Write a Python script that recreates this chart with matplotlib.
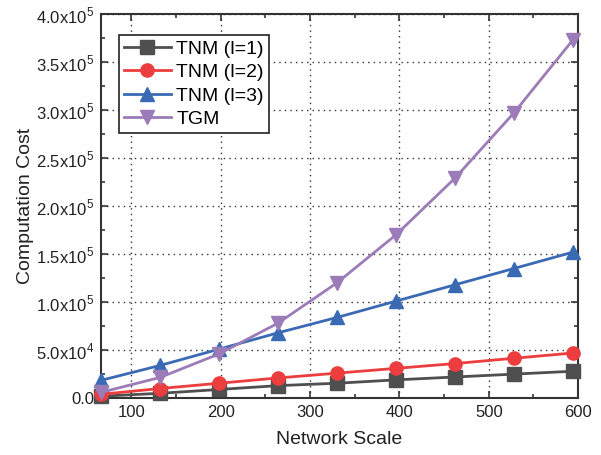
import matplotlib.pyplot as plt
from matplotlib.ticker import MultipleLocator, FuncFormatter

plt.rcParams['font.family'] = ['Liberation Sans', 'DejaVu Sans']
plt.rcParams['mathtext.fontset'] = 'custom'
plt.rcParams['mathtext.rm'] = 'Liberation Sans'

# data
network_scale = [66, 132, 198, 264, 330, 396, 462, 528, 594]
tnm_l1 = [2000, 5000, 9000, 13000, 15500, 19000, 22000, 25000, 28000]
tnm_l2 = [4000, 10000, 15500, 21000, 26000, 31000, 36000, 41500, 47000]
tnm_l3 = [18500, 34000, 51000, 68000, 84000, 101000, 118000, 135000, 152000]
tgm = [6000, 21500, 46000, 78000, 120000, 170000, 229000, 297000, 373000]

labels = ['TNM (l=1)', 'TNM (l=2)', 'TNM (l=3)', 'TGM']
colors = ['#4f4f4f', '#ec3d3f', '#3a6ab4', '#9b7bb8']
markers = ['s', 'o', '^', 'v']

fig = plt.figure(figsize=(6.01, 4.55), dpi=100)
ax = fig.add_axes([0.168, 0.125, 0.794, 0.844])

for ys, lab, c, m in zip([tnm_l1, tnm_l2, tnm_l3, tgm], labels, colors, markers):
    ax.plot(network_scale, ys, color=c, marker=m, markersize=9.5, lw=2,
            label=lab, clip_on=False, zorder=3)

ax.set_xlim(66, 600)
ax.set_ylim(0, 4.0e5)
ax.xaxis.set_major_locator(MultipleLocator(100))
ax.xaxis.set_minor_locator(MultipleLocator(50))
ax.yaxis.set_major_locator(MultipleLocator(5e4))
ax.yaxis.set_minor_locator(MultipleLocator(2.5e4))


def sci(v, pos):
    if v == 0:
        return '0.0'
    e = 5 if v >= 1e5 else 4
    return '%.1fx10$^{%d}$' % (v / 10 ** e, e)


ax.yaxis.set_major_formatter(FuncFormatter(sci))

ax.grid(True, which='major', ls=(0, (1, 3)), color='#333333', lw=1)
ax.tick_params(which='both', direction='in', top=True, right=True,
               colors='#333333', labelcolor='#222222', labelsize=12)
ax.tick_params(which='major', length=5, width=1.2)
ax.tick_params(which='minor', length=3, width=1.2)
ax.tick_params(axis='x', pad=5)
ax.tick_params(axis='y', pad=5)
for s in ax.spines.values():
    s.set_linewidth(1.5)
    s.set_color('#333333')

ax.set_xlabel('Network Scale', fontsize=14, color='#222222', labelpad=8)
ax.set_ylabel('Computation Cost', fontsize=14, color='#222222', labelpad=1)

leg = ax.legend(loc='upper left', fontsize=14, fancybox=False, framealpha=1,
                edgecolor='#222222', handlelength=2.4, handletextpad=0.3,
                borderpad=0.25, labelspacing=0.3, borderaxespad=0,
                bbox_to_anchor=(0.038, 0.945))
leg.get_frame().set_linewidth(1.2)

fig.savefig('out.png', dpi=100)
